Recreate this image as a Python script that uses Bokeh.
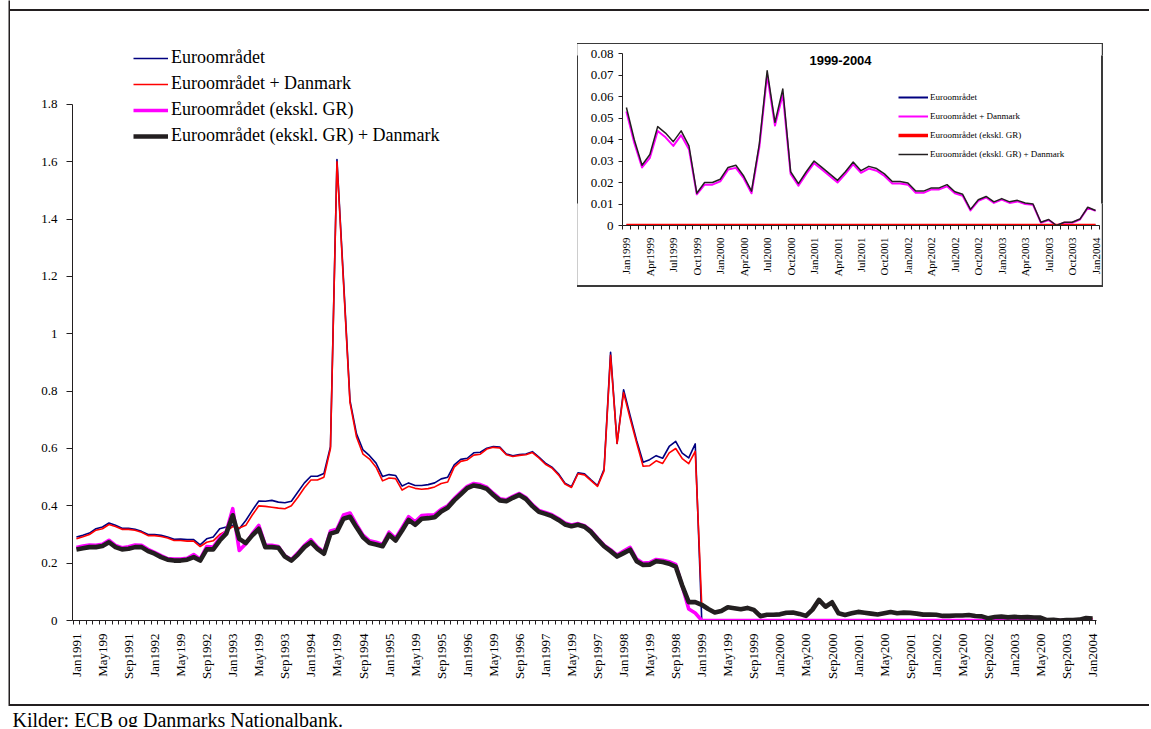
import math
from bokeh.plotting import figure
from bokeh.layouts import column, row
from bokeh.models import (Range1d, FixedTicker, NumeralTickFormatter, Legend, LegendItem,
                          Label, GridBox, Div, Spacer)
from bokeh.embed import file_html
from bokeh.resources import INLINE

# ---------------- data ----------------
month_names = ["Jan", "Feb", "Mar", "Apr", "May", "Jun", "Jul", "Aug", "Sep", "Oct", "Nov", "Dec"]
months_main = [f"{m}{y}" for y in range(1991, 2004) for m in month_names] + ["Jan2004"]
months_inset = [f"{m}{y}" for y in range(1999, 2004) for m in month_names] + ["Jan2004"]

main_tick_labels = [
    "Jan1991", "May199", "Sep1991", "Jan1992", "May199", "Sep1992", "Jan1993", "May199", "Sep1993",
    "Jan1994", "May199", "Sep1994", "Jan1995", "May199", "Sep1995", "Jan1996", "May199", "Sep1996",
    "Jan1997", "May199", "Sep1997", "Jan1998", "May199", "Sep1998", "Jan1999", "May199", "Sep1999",
    "Jan2000", "May200", "Sep2000", "Jan2001", "May200", "Sep2001", "Jan2002", "May200", "Sep2002",
    "Jan2003", "May200", "Sep2003", "Jan2004"]
inset_tick_labels = [
    "Jan1999", "Apr1999", "Jul1999", "Oct1999", "Jan2000", "Apr2000", "Jul2000", "Oct2000",
    "Jan2001", "Apr2001", "Jul2001", "Oct2001", "Jan2002", "Apr2002", "Jul2002", "Oct2002",
    "Jan2003", "Apr2003", "Jul2003", "Oct2003", "Jan2004"]

series_names = ["Euroområdet", "Euroområdet + Danmark", "Euroområdet (ekskl. GR)",
                "Euroområdet (ekskl. GR) + Danmark"]

# Jan1991 - Dec1998
euro_9198 = [
    0.291, 0.297, 0.305, 0.320, 0.326, 0.340, 0.332, 0.322, 0.322, 0.318,
    0.311, 0.300, 0.300, 0.297, 0.291, 0.283, 0.284, 0.282, 0.282, 0.264,
    0.285, 0.291, 0.320, 0.326, 0.332, 0.320, 0.349, 0.384, 0.417, 0.416,
    0.419, 0.413, 0.411, 0.416, 0.448, 0.480, 0.503, 0.503, 0.513, 0.606,
    1.608, 1.190, 0.767, 0.651, 0.595, 0.575, 0.549, 0.502, 0.509, 0.506,
    0.469, 0.480, 0.471, 0.471, 0.474, 0.480, 0.494, 0.500, 0.543, 0.562,
    0.566, 0.585, 0.587, 0.601, 0.607, 0.605, 0.581, 0.575, 0.579, 0.581,
    0.589, 0.570, 0.549, 0.535, 0.512, 0.479, 0.467, 0.515, 0.512, 0.491,
    0.471, 0.527, 0.936, 0.618, 0.805, 0.715, 0.628, 0.552, 0.561, 0.575,
    0.566, 0.607, 0.625, 0.584, 0.567, 0.616]
euro_dk_9198 = [
    0.285, 0.292, 0.300, 0.315, 0.320, 0.335, 0.328, 0.318, 0.318, 0.315,
    0.308, 0.296, 0.296, 0.293, 0.288, 0.279, 0.279, 0.277, 0.277, 0.258,
    0.273, 0.278, 0.300, 0.312, 0.328, 0.323, 0.332, 0.368, 0.400, 0.398,
    0.395, 0.392, 0.390, 0.400, 0.430, 0.463, 0.490, 0.490, 0.500, 0.600,
    1.600, 1.180, 0.760, 0.640, 0.580, 0.563, 0.535, 0.487, 0.497, 0.495,
    0.455, 0.468, 0.461, 0.458, 0.460, 0.466, 0.478, 0.483, 0.535, 0.555,
    0.560, 0.577, 0.580, 0.598, 0.604, 0.602, 0.578, 0.572, 0.576, 0.578,
    0.586, 0.567, 0.545, 0.532, 0.508, 0.476, 0.464, 0.512, 0.508, 0.488,
    0.468, 0.522, 0.925, 0.618, 0.795, 0.705, 0.620, 0.538, 0.540, 0.557,
    0.548, 0.585, 0.600, 0.565, 0.547, 0.590]
exgr_9198 = [
    0.255, 0.260, 0.263, 0.262, 0.266, 0.280, 0.262, 0.254, 0.257, 0.263,
    0.262, 0.248, 0.238, 0.226, 0.216, 0.214, 0.214, 0.217, 0.230, 0.214,
    0.258, 0.256, 0.288, 0.310, 0.390, 0.244, 0.268, 0.303, 0.332, 0.262,
    0.262, 0.258, 0.226, 0.213, 0.236, 0.262, 0.282, 0.256, 0.238, 0.312,
    0.318, 0.368, 0.375, 0.335, 0.298, 0.278, 0.273, 0.265, 0.308, 0.287,
    0.324, 0.362, 0.344, 0.366, 0.368, 0.369, 0.388, 0.400, 0.425, 0.447,
    0.468, 0.478, 0.474, 0.465, 0.444, 0.425, 0.421, 0.433, 0.443, 0.429,
    0.404, 0.384, 0.377, 0.369, 0.356, 0.340, 0.333, 0.338, 0.331, 0.313,
    0.287, 0.263, 0.247, 0.228, 0.242, 0.255, 0.214, 0.200, 0.202, 0.213,
    0.210, 0.205, 0.196, 0.120, 0.040, 0.026]
exgr_dk_9198 = [
    0.248, 0.252, 0.256, 0.256, 0.260, 0.273, 0.256, 0.248, 0.250, 0.256,
    0.256, 0.242, 0.233, 0.221, 0.212, 0.209, 0.209, 0.212, 0.221, 0.209,
    0.248, 0.248, 0.279, 0.303, 0.367, 0.285, 0.270, 0.297, 0.320, 0.256,
    0.256, 0.254, 0.223, 0.209, 0.230, 0.256, 0.273, 0.250, 0.233, 0.303,
    0.310, 0.355, 0.362, 0.325, 0.290, 0.270, 0.265, 0.259, 0.299, 0.279,
    0.314, 0.351, 0.334, 0.355, 0.357, 0.360, 0.380, 0.393, 0.419, 0.440,
    0.462, 0.471, 0.467, 0.459, 0.438, 0.419, 0.416, 0.428, 0.438, 0.424,
    0.399, 0.379, 0.372, 0.364, 0.351, 0.335, 0.329, 0.334, 0.327, 0.309,
    0.283, 0.259, 0.242, 0.223, 0.235, 0.247, 0.207, 0.194, 0.195, 0.207,
    0.204, 0.198, 0.188, 0.122, 0.064, 0.064]

# Jan1999 - Jan2004
euro_9904 = [0.0] * 61
exgr_9904 = [0.0] * 61
euro_dk_9904 = [
    0.053, 0.0385, 0.027, 0.0315, 0.044, 0.041, 0.037, 0.042, 0.0355, 0.0145, 0.019, 0.019,
    0.0205, 0.026, 0.0268, 0.022, 0.015, 0.0365, 0.070, 0.0465, 0.061, 0.024, 0.0185, 0.024,
    0.029, 0.026, 0.023, 0.020, 0.024, 0.0285, 0.0245, 0.0265, 0.0255, 0.023, 0.0195, 0.0195,
    0.019, 0.0152, 0.0152, 0.0168, 0.0168, 0.0182, 0.015, 0.0138, 0.0070, 0.0115, 0.013, 0.0105,
    0.012, 0.0105, 0.0112, 0.010, 0.0096, 0.0013, 0.0025, 0.0, 0.0013, 0.0013, 0.0028, 0.0082,
    0.0068]
exgr_dk_9904 = [
    0.0549, 0.040, 0.028, 0.033, 0.046, 0.043, 0.039, 0.044, 0.037, 0.015, 0.020, 0.020,
    0.0215, 0.027, 0.028, 0.023, 0.016, 0.038, 0.072, 0.048, 0.0635, 0.025, 0.0195, 0.025,
    0.030, 0.027, 0.024, 0.021, 0.025, 0.0295, 0.0255, 0.0275, 0.0265, 0.024, 0.0205, 0.0205,
    0.0198, 0.016, 0.016, 0.0175, 0.0175, 0.019, 0.0157, 0.0145, 0.0075, 0.012, 0.0135, 0.011,
    0.0125, 0.011, 0.0117, 0.0105, 0.010, 0.0015, 0.0028, 0.0, 0.0015, 0.0015, 0.003, 0.0085,
    0.007]

main_series = [euro_9198 + euro_9904, euro_dk_9198 + euro_dk_9904,
               exgr_9198 + exgr_9904, exgr_dk_9198 + exgr_dk_9904]
inset_series = [euro_9904, euro_dk_9904, exgr_9904, exgr_dk_9904]

# ---------------- styling ----------------
SERIF = "Liberation Serif"
SANS = "Liberation Sans"
AX = "#231f20"
BOX = "#3a3a3a"
main_styles = [("#000080", 1.6), ("#ff0000", 1.6), ("#ff00ff", 3.6), ("#231f20", 4.6)]
inset_styles = [("#000080", 2.0), ("#ff00ff", 2.0), ("#ff0000", 3.5), ("#231f20", 1.5)]

# common borders (plots sharing a grid cell get aligned borders)
BL, BT, BB, BR = 62, 12, 84, 20


def style_axes(fig, label_px_x, label_px_y):
    fig.grid.visible = False
    for ax in (fig.xaxis[0], fig.yaxis[0]):
        ax.axis_label = None
        ax.axis_label_standoff = 0
        ax.axis_line_color = AX
        ax.axis_line_width = 1
        ax.major_tick_line_color = AX
        ax.minor_tick_line_color = AX
        ax.major_label_text_font = SERIF
        ax.major_label_text_color = "black"
        ax.major_label_text_font_style = "normal"
    fig.xaxis[0].major_label_text_font_size = label_px_x
    fig.yaxis[0].major_label_text_font_size = label_px_y


def vstrip(w, h, color=AX, margin=None):
    f = figure(width=w, height=h, x_axis_type=None, y_axis_type=None, min_border=0,
               toolbar_location=None, outline_line_color=None, background_fill_color=color,
               border_fill_color=color, output_backend="svg", title=None, align="start")
    f.grid.visible = False
    if margin is not None:
        f.margin = margin
    return f


def hstrip(w, h, color=AX, margin=0):
    return Div(text="", width=w, height=h, margin=margin, align="start",
               styles={"background-color": color, "overflow": "hidden"})


# ---------------- main figure ----------------
PX_X = 6.514          # pixels per month
PX_Y = 286.67         # pixels per unit
MAIN_W, MAIN_H = 1139, 693
frame_w = MAIN_W - BL - BR
frame_h = MAIN_H - BB - BT

x_main = list(range(len(months_main)))
x0 = -0.6
p = figure(width=MAIN_W, height=MAIN_H, min_border_left=BL, min_border_right=BR,
           min_border_top=BT, min_border_bottom=BB, title=None,
           x_range=Range1d(x0, x0 + frame_w / PX_X), y_range=Range1d(0, frame_h / PX_Y),
           output_backend="svg", toolbar_location=None, outline_line_color=None,
           background_fill_color="white", border_fill_color="white", align="start")
style_axes(p, "13px", "13px")
xa = p.xaxis[0]
xa.bounds = (x0, len(months_main) - 0.4)
xa.ticker = FixedTicker(ticks=x_main[::4], minor_ticks=[i - 0.5 for i in range(len(months_main) + 1)])
xa.major_label_overrides = {x_main[::4][k]: lab for k, lab in enumerate(main_tick_labels)}
xa.major_label_orientation = math.pi / 2
xa.major_tick_out = 0
xa.major_tick_in = 0
xa.minor_tick_out = 4
xa.minor_tick_in = 0
xa.major_label_standoff = 9
ya = p.yaxis[0]
ya.bounds = (0, 1.8)
ya.ticker = FixedTicker(ticks=[0, 0.2, 0.4, 0.6, 0.8, 1, 1.2, 1.4, 1.6, 1.8], minor_ticks=[])
ya.formatter = NumeralTickFormatter(format="0.[0]")
ya.major_tick_out = 6
ya.major_tick_in = 0
ya.minor_tick_out = 0
ya.major_label_standoff = 9

main_items = []
for name, ys, (col, lw) in zip(series_names, main_series, main_styles):
    r = p.line(x_main, ys, line_color=col, line_width=lw, line_join="round")
    main_items.append(LegendItem(label=name, renderers=[r]))

leg = Legend(items=main_items, location=(61, 474), orientation="vertical",
             label_text_font=SERIF, label_text_font_size="18px", label_text_color="black",
             glyph_width=35, glyph_height=20, label_height=20, spacing=5, padding=0, margin=0,
             label_standoff=3, border_line_color=None, background_fill_alpha=0)
p.add_layout(leg, "center")

# ---------------- inset figure ----------------
# inset frame on the page: x 622..1099, y 53..225
x_inset = list(range(len(months_inset)))
q = figure(frame_width=477, frame_height=172, min_border_left=BL, min_border_right=BR,
           min_border_top=BT, min_border_bottom=BB, title=None,
           x_range=Range1d(-0.5, len(months_inset) - 0.5), y_range=Range1d(0, 0.08),
           output_backend="svg", toolbar_location=None, outline_line_color=None,
           background_fill_color="white", border_fill_color="white", align="start")
q.margin = (53 - 11 - BT, 0, 0, 622 - 10 - BL)
style_axes(q, "11px", "13px")
qx = q.xaxis[0]
qx.ticker = FixedTicker(ticks=x_inset[::3], minor_ticks=[i - 0.5 for i in range(len(months_inset) + 1)])
qx.major_label_overrides = {x_inset[::3][k]: lab for k, lab in enumerate(inset_tick_labels)}
qx.major_label_orientation = math.pi / 2
qx.major_tick_out = 0
qx.major_tick_in = 0
qx.minor_tick_out = 4
qx.minor_tick_in = 0
qx.major_label_standoff = 8
qy = q.yaxis[0]
qy.ticker = FixedTicker(ticks=[0, 0.01, 0.02, 0.03, 0.04, 0.05, 0.06, 0.07, 0.08], minor_ticks=[])
qy.formatter = NumeralTickFormatter(format="0.[00]")
qy.major_tick_out = 4
qy.major_tick_in = 0
qy.minor_tick_out = 0
qy.major_label_standoff = 5

inset_items = []
for name, ys, (col, lw) in zip(series_names, inset_series, inset_styles):
    r = q.line(x_inset, ys, line_color=col, line_width=lw, line_join="round")
    inset_items.append(LegendItem(label=name, renderers=[r]))

qleg = Legend(items=inset_items, location=(276, 64), orientation="vertical",
              label_text_font=SERIF, label_text_font_size="9px", label_text_color="black",
              glyph_width=30, glyph_height=14, label_height=14, spacing=5, padding=0, margin=0,
              label_standoff=2, border_line_color=None, background_fill_alpha=0)
q.add_layout(qleg, "center")
q.add_layout(Label(x=218, y=165, x_units="screen", y_units="screen", text="1999-2004",
                   text_font=SANS, text_font_style="bold", text_font_size="13px",
                   text_align="center", text_baseline="middle", text_color="black"))

# inset box: page x 577..1103, y 43..287
BX, BY = 577 - 10, 43 - 11
main_area = GridBox(children=[
    (p, 0, 0),
    (q, 0, 0),
    (hstrip(526, 1, BOX, (BY, 0, 0, BX)), 0, 0),
    (vstrip(1, 244, BOX, (BY, 0, 0, BX)), 0, 0),
    (vstrip(2, 244, BOX, (BY, 0, 0, BX + 524)), 0, 0),
    (hstrip(526, 2, BOX, (BY + 242, 0, 0, BX)), 0, 0),
])

# ---------------- source line ----------------
src = figure(width=MAIN_W, height=21, x_axis_type=None, y_axis_type=None, min_border=0,
             x_range=Range1d(0, 1), y_range=Range1d(0, 1), toolbar_location=None,
             outline_line_color=None, output_backend="svg", title=None, align="start")
src.grid.visible = False
src.add_layout(Label(x=2, y=19, x_units="screen", y_units="screen",
                     text="Kilder: ECB og Danmarks Nationalbank.", text_font=SERIF,
                     text_font_size="20px", text_baseline="top", text_color="black"))

right = column(Spacer(width=MAIN_W, height=9), hstrip(MAIN_W, 2), main_area,
               hstrip(MAIN_W, 2), src)
layout = row(Spacer(width=8, height=727), vstrip(2, 706), right)
open("out.html", "w").write(file_html(layout, INLINE))
